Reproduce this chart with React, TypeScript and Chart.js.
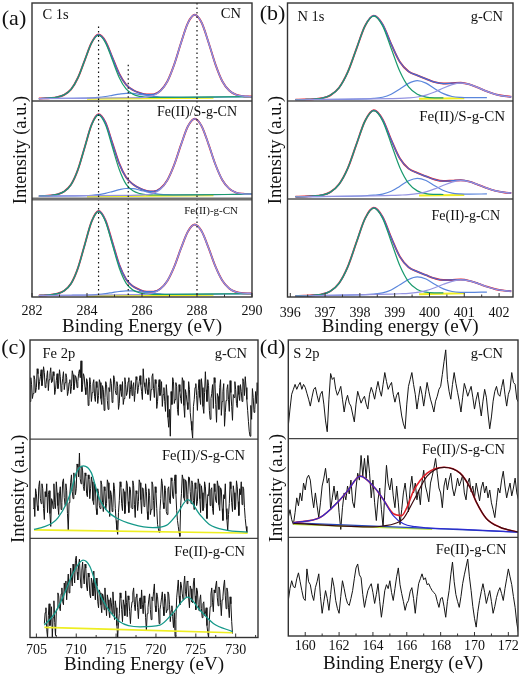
import React, { useEffect, useRef } from "react";
import { Chart, registerables } from "chart.js";

Chart.register(...registerables);

const SERIF = '"Liberation Serif", "Times New Roman", Times, serif';

// ---------------- (a) C 1s ----------------
const A_ENV_X = [282.25, 282.42, 282.67, 282.92, 283.17, 283.42, 283.67, 283.92, 284.17, 284.42, 284.67, 284.92, 285.17, 285.42, 285.67, 285.92, 286.17, 286.42, 286.67, 286.92, 287.17, 287.42, 287.67, 287.92, 288.17, 288.42, 288.67, 288.92, 289.17, 289.42, 289.67, 289.92, 290.0];
const A1_ENV = [2.5, 2.7, 3.1, 4.0, 6.3, 11.8, 23.7, 41.8, 59.7, 67.8, 61.0, 44.6, 27.9, 16.8, 11.2, 8.2, 6.6, 6.8, 10.5, 19.9, 37.1, 59.4, 79.7, 88.0, 79.8, 59.7, 37.4, 20.2, 10.7, 6.4, 4.9, 4.6, 4.5];
const A2_ENV = [2.9, 3.1, 3.6, 4.7, 7.6, 14.7, 30.0, 53.1, 76.2, 86.5, 78.1, 57.3, 36.3, 22.2, 15.0, 10.8, 8.3, 7.7, 10.7, 19.2, 34.8, 55.5, 74.2, 81.9, 74.3, 55.8, 35.2, 19.4, 10.6, 6.6, 5.3, 5.0, 4.9];
const A3_ENV = [1.5, 1.7, 2.2, 3.4, 6.4, 13.7, 29.5, 53.6, 77.2, 87.7, 78.4, 56.1, 33.2, 18.2, 10.9, 7.3, 5.4, 5.4, 8.5, 16.4, 30.8, 49.8, 66.9, 74.0, 67.0, 50.1, 31.2, 16.8, 8.7, 5.1, 3.8, 3.6, 3.5];

const A_GREEN_X = [282.25, 282.42, 282.67, 282.92, 283.17, 283.42, 283.67, 283.92, 284.17, 284.42, 284.67, 284.92, 285.17, 285.42, 285.67, 285.92, 286.17, 286.42, 286.92, 290.0];
const A1_GREEN = [2.5, 2.7, 3.1, 4.0, 6.3, 11.8, 23.7, 41.7, 59.5, 67.1, 59.6, 42.0, 24.1, 12.3, 6.9, 4.7, 4.0, 3.7, 3.7, 4.5];
const A2_GREEN = [2.9, 3.1, 3.6, 4.7, 7.6, 14.7, 30.0, 53.0, 75.8, 85.5, 75.9, 53.3, 30.4, 15.2, 8.3, 5.5, 4.5, 4.1, 4.1, 4.9];
const A3_GREEN = [1.5, 1.7, 2.2, 3.4, 6.4, 13.7, 29.5, 53.5, 77.0, 87.1, 77.1, 53.8, 29.9, 14.2, 7.1, 4.2, 3.1, 2.7, 2.7, 3.5];

const A_SMALL_X = [282.25, 283.42, 283.92, 284.17, 284.42, 284.67, 284.92, 285.17, 285.42, 285.67, 285.92, 286.17, 286.42, 286.67, 286.92, 287.42, 290.0];
const A1_SMALL = [2.5, 2.8, 3.0, 3.2, 3.7, 4.6, 5.8, 7.0, 7.8, 7.7, 6.8, 5.7, 4.7, 4.1, 3.9, 3.8, 4.5];
const A2_SMALL = [2.9, 3.2, 3.4, 3.8, 4.5, 5.8, 7.6, 9.5, 10.7, 10.5, 9.1, 7.2, 5.7, 4.8, 4.4, 4.2, 4.9];
const A3_SMALL = [1.5, 1.8, 2.0, 2.2, 2.6, 3.4, 4.5, 5.6, 6.3, 6.2, 5.4, 4.4, 3.6, 3.1, 2.8, 2.8, 3.5];

const A_LAV_X = [282.25, 285.42, 285.92, 286.17, 286.42, 286.67, 286.92, 287.17, 287.42, 287.67, 287.92, 288.17, 288.42, 288.67, 288.92, 289.17, 289.42, 289.67, 289.92, 290.0];
const A1_LAV = [2.5, 3.3, 3.5, 4.0, 5.6, 10.0, 19.7, 37.0, 59.4, 79.7, 88.0, 79.8, 59.7, 37.4, 20.2, 10.7, 6.4, 4.9, 4.6, 4.5];
const A2_LAV = [2.9, 3.7, 3.9, 4.4, 5.8, 9.9, 18.9, 34.8, 55.5, 74.2, 81.9, 74.3, 55.8, 35.2, 19.4, 10.6, 6.6, 5.3, 5.0, 4.9];
const A3_LAV = [1.5, 2.3, 2.5, 2.9, 4.3, 8.0, 16.3, 30.8, 49.8, 66.9, 74.0, 67.0, 50.1, 31.2, 16.8, 8.7, 5.1, 3.8, 3.6, 3.5];

const A_YEL_X = [284.0, 288.6];
const A1_YEL = [2.2, 3.4];
const A2_YEL = [2.6, 3.8];
const A3_YEL = [1.0, 2.2];

const A_DOT_X = [284.42, 285.5, 288.0];
const A1_DOT_TOP = [76, 37, 100];
const A2_DOT_TOP = [100, 100, 100];
const A3_DOT_TOP = [100, 100, 100];

// ---------------- (b) N 1s ----------------
const B_ENV_X = [396.15, 396.4, 396.65, 396.9, 397.15, 397.4, 397.65, 397.9, 398.15, 398.4, 398.65, 398.9, 399.15, 399.4, 399.65, 399.9, 400.15, 400.4, 400.65, 400.9, 401.15, 401.4, 401.65, 401.9, 402.15, 402.35];
const B1_ENV = [1.3, 1.5, 1.8, 2.8, 5.8, 13.5, 29.4, 53.2, 76.8, 87.1, 78.4, 58.1, 39.8, 30.2, 26.2, 22.6, 19.2, 17.8, 18.2, 18.6, 17.0, 13.6, 9.8, 6.8, 5.05, 4.3];
const B2_ENV = [2.3, 2.5, 3.0, 3.9, 7.0, 15.0, 31.2, 55.7, 79.8, 90.5, 81.4, 60.4, 41.3, 31.0, 26.6, 23.1, 19.9, 18.3, 18.7, 19.2, 17.7, 14.5, 11.1, 8.3, 6.7, 6.1];
const B3_ENV = [1.0, 1.3, 1.75, 2.7, 5.9, 14.0, 30.7, 55.7, 80.2, 91.0, 81.9, 60.6, 41.1, 30.4, 25.9, 22.3, 19.0, 17.3, 17.4, 17.8, 16.5, 13.7, 10.5, 7.9, 6.5, 5.9];

const B_GREEN_X = [396.15, 396.4, 396.65, 396.9, 397.15, 397.4, 397.65, 397.9, 398.15, 398.4, 398.65, 398.9, 399.15, 399.4, 399.65, 399.9, 400.15, 400.4];
const B1_GREEN = [1.3, 1.5, 1.8, 2.8, 5.8, 13.5, 29.4, 53.2, 76.7, 86.7, 76.9, 53.6, 30.0, 14.3, 6.8, 4.0, 3.2, 3.1];
const B2_GREEN = [2.3, 2.5, 3.0, 3.9, 7.0, 15.0, 31.2, 55.7, 79.7, 90.1, 80.0, 56.2, 32.0, 16.0, 8.3, 5.5, 4.75, 4.6];
const B3_GREEN = [1.0, 1.3, 1.75, 2.7, 5.9, 14.0, 30.7, 55.7, 80.1, 90.6, 80.5, 56.4, 31.8, 15.4, 7.7, 4.9, 4.25, 4.2];

const B_BLUE_X = [396.15, 398.15, 398.4, 398.65, 398.9, 399.15, 399.4, 399.65, 399.9, 400.15, 400.4, 400.65, 400.9, 401.15, 401.65];
const B1_BLUE = [1.3, 2.2, 2.6, 3.8, 6.9, 12.2, 18.0, 20.7, 18.2, 12.6, 7.5, 4.6, 3.6, 3.4, 3.5];
const B2_BLUE = [2.3, 3.3, 3.9, 5.0, 7.9, 13.1, 18.6, 21.1, 18.9, 13.6, 8.7, 6.0, 5.2, 5.0, 5.2];
const B3_BLUE = [1.0, 2.4, 3.0, 4.2, 7.2, 12.4, 17.9, 20.5, 18.3, 13.1, 8.3, 5.6, 4.8, 4.7, 5.0];

const B_LAV_X = [396.15, 398.9, 399.15, 399.4, 399.65, 399.9, 400.15, 400.4, 400.65, 400.9, 401.15, 401.4, 401.65, 401.9, 402.15, 402.35];
const B1_LAV = [1.3, 2.4, 2.6, 3.1, 4.05, 6.0, 9.2, 13.2, 16.7, 18.2, 16.9, 13.6, 9.8, 6.8, 5.05, 4.3];
const B2_LAV = [2.3, 3.7, 4.0, 4.4, 5.4, 7.3, 10.3, 14.0, 17.3, 18.8, 17.6, 14.5, 11.1, 8.3, 6.7, 6.1];
const B3_LAV = [1.0, 3.0, 3.3, 3.7, 4.7, 6.5, 9.4, 13.0, 16.0, 17.4, 16.4, 13.7, 10.5, 7.9, 6.5, 5.9];

const B_YEL_X = [399.7, 401.0];
const B1_YEL = [2.2, 2.7];
const B2_YEL = [3.6, 4.2];
const B3_YEL = [2.9, 3.7];

// ---------------- (c) Fe 2p ----------------
const C1_START = 704.2;
const C2_START = 704.6;
const C3_START = 706.0;
const C_STEP = 0.1;
const C1_NOISE = [38, 62, 55, 41, 46, 64, 60, 47, 52, 71, 66, 50, 58, 63, 70, 54, 61, 73, 67, 52, 55, 62, 69, 49, 60, 66, 72, 57, 58, 68, 64, 45, 50, 59, 66, 51, 56, 70, 63, 48, 54, 61, 68, 50, 57, 66, 62, 44, 48, 57, 60, 46, 53, 69, 65, 50, 56, 64, 62, 52, 58, 66, 70, 62, 79, 48, 55, 66, 63, 52, 45, 61, 58, 34, 40, 62, 55, 38, 47, 56, 60, 43, 38, 58, 52, 36, 44, 60, 57, 41, 35, 54, 50, 29, 42, 58, 55, 39, 30, 52, 48, 61, 56, 37, 40, 64, 60, 49, 45, 58, 53, 30, 36, 55, 49, 43, 58, 35, 41, 62, 55, 44, 47, 58, 62, 41, 50, 59, 44, 53, 57, 38, 49, 63, 60, 46, 52, 58, 64, 55, 48, 40, 71, 57, 53, 46, 61, 50, 45, 62, 58, 39, 50, 63, 66, 51, 42, 60, 56, 31, 38, 52, 60, 44, 47, 58, 33, 45, 52, 38, 28, 55, 44, 22, 12, 30, 3, 48, 35, 62, 58, 36, 40, 57, 53, 30, 24, 55, 48, 41, 36, 62, 59, 34, 22, 50, 45, 37, 30, 58, 50, 27, 18, 9, 1, 33, 40, 52, 56, 44, 29, 49, 60, 42, 35, 61, 52, 33, 26, 47, 68, 50, 38, 60, 54, 29, 20, 41, 46, 55, 31, 62, 57, 35, 17, 46, 43, 30, 52, 60, 24, 38, 48, 56, 13, 27, 39, 50, 55, 40, 28, 59, 47, 33, 19, 45, 42, 58, 50, 36, 32, 54, 45, 39, 55, 48, 38, 61, 58, 44, 63, 52, 40, 29, 18, 8, 3, 34, 20, 51, 42, 27, 30, 48, 36, 57, 44];
const C2_NOISE = [30, 41, 22, 50, 45, 33, 28, 52, 58, 40, 35, 55, 50, 30, 19, 47, 42, 55, 26, 44, 48, 25, 12, 40, 38, 30, 55, 36, 30, 57, 46, 33, 24, 45, 52, 29, 36, 57, 60, 41, 33, 55, 48, 25, 8, 36, 45, 56, 64, 47, 40, 66, 58, 44, 50, 75, 72, 62, 86, 60, 55, 73, 68, 52, 48, 66, 63, 45, 42, 64, 60, 40, 50, 62, 57, 38, 34, 55, 52, 30, 24, 50, 45, 33, 30, 58, 54, 36, 27, 52, 48, 29, 35, 59, 56, 40, 22, 48, 44, 27, 31, 56, 50, 30, 18, 9, 4, 26, 38, 57, 52, 35, 28, 50, 47, 25, 34, 58, 55, 37, 26, 52, 49, 31, 30, 58, 53, 34, 21, 48, 45, 28, 37, 59, 56, 39, 25, 51, 50, 32, 33, 55, 47, 27, 19, 50, 43, 24, 29, 57, 54, 38, 22, 52, 46, 30, 14, 10, 6, 28, 40, 60, 55, 36, 30, 53, 48, 27, 24, 50, 52, 38, 35, 61, 58, 42, 40, 57, 64, 45, 28, 18, 12, 6, 2, 33, 45, 64, 60, 41, 38, 59, 57, 35, 44, 62, 61, 47, 35, 58, 54, 38, 29, 56, 50, 33, 37, 60, 55, 40, 26, 53, 46, 28, 31, 57, 52, 35, 20, 44, 43, 56, 33, 49, 51, 30, 24, 55, 47, 38, 36, 58, 53, 34, 28, 51, 49, 30, 18, 44, 40, 55, 30, 19, 8, 24, 35, 57, 50, 36, 27, 53, 46, 29, 32, 58, 52, 37, 23, 50, 44, 57, 34, 52, 50, 31, 20, 12, 6];
const C3_NOISE = [14, 25, 30, 8, 0, 22, 34, 12, 18, 31, 0, 20, 37, 15, 2, 26, 29, 45, 42, 31, 27, 44, 50, 36, 33, 55, 46, 57, 38, 52, 64, 45, 48, 70, 60, 52, 74, 66, 55, 78, 82, 66, 58, 73, 79, 61, 50, 68, 76, 62, 54, 74, 70, 52, 47, 65, 61, 44, 40, 60, 55, 42, 67, 49, 38, 60, 52, 36, 30, 48, 45, 33, 25, 44, 41, 28, 50, 35, 22, 43, 38, 27, 20, 40, 35, 24, 46, 32, 18, 37, 30, 12, 0, 15, 24, 45, 40, 28, 16, 38, 33, 22, 47, 35, 21, 42, 38, 26, 14, 29, 36, 45, 50, 33, 27, 41, 44, 30, 19, 36, 40, 29, 48, 33, 24, 42, 35, 20, 7, 24, 30, 38, 44, 28, 18, 41, 37, 46, 54, 32, 26, 45, 41, 30, 14, 28, 33, 40, 46, 31, 22, 44, 39, 25, 28, 46, 44, 33, 16, 27, 32, 21, 10, 25, 1, 18, 40, 49, 58, 42, 33, 56, 52, 44, 38, 53, 62, 46, 41, 57, 56, 40, 30, 52, 49, 36, 35, 55, 60, 42, 28, 50, 47, 33, 27, 38, 43, 29, 20, 34, 36, 22, 24, 30, 12, 5, 0, 18, 31, 44, 50, 35, 26, 48, 45, 52, 57, 40, 32, 51, 48, 35, 22, 38, 41, 52, 58, 42, 29, 50, 46, 30, 20, 41, 34, 16, 4];

const C2_GREEN_X = [704.7, 706.0, 707.0, 707.7, 708.8, 709.4, 710.0, 710.9, 711.9, 712.5, 712.9, 713.8, 715.0, 717.1, 719.6, 721.3, 722.6, 724.0, 725.5, 726.7, 728.8, 731.5];
const C2_GREEN = [9, 11.7, 15.5, 20.7, 35.7, 49, 66, 73, 66, 50, 40, 28.3, 20.7, 14, 10.7, 13, 24, 39, 24, 14, 8.3, 6.3];
const C3_GREEN_X = [706.0, 707.3, 708.55, 709.6, 710.85, 711.7, 712.7, 713.8, 715.45, 718.0, 720.5, 722.1, 724.0, 725.5, 727.2, 729.6];
const C3_GREEN = [12.5, 24.4, 44.8, 65, 78, 71.8, 48.1, 31.1, 15.9, 10.8, 12.5, 24.4, 40.7, 27.8, 14.2, 6];
const C2_YEL_X = [704.7, 731.5];
const C2_YEL = [8.5, 5.3];
const C3_YEL_X = [706.0, 729.6];
const C3_YEL = [10.2, 4.8];

// ---------------- (d) S 2p ----------------
const D_START = 159.0;
const D_STEP = 0.1;
const D1_NOISE = [13, 30, 45, 50, 55, 50, 54, 57, 50, 55, 52, 46, 40, 33, 42, 50, 52, 44, 37, 45, 48, 35, 18, 7, 40, 66, 60, 62, 50, 44, 48, 53, 40, 27, 38, 44, 36, 33, 25, 17, 35, 48, 42, 36, 40, 43, 35, 30, 45, 52, 47, 40, 50, 58, 49, 43, 55, 67, 58, 50, 54, 57, 45, 37, 44, 47, 35, 23, 15, 10, 35, 53, 60, 67, 55, 45, 30, 42, 53, 45, 33, 45, 57, 48, 40, 34, 27, 38, 43, 50, 53, 65, 78, 90, 60, 48, 40, 55, 67, 56, 47, 38, 27, 42, 56, 50, 43, 48, 53, 42, 30, 40, 47, 35, 23, 38, 50, 42, 25, 10, 22, 38, 48, 53, 45, 43, 52, 60, 45, 33, 45, 50, 67, 57, 55, 40, 37];
const D2_NOISE = [20, 28, 18, 13, 25, 40, 32, 45, 37, 55, 48, 60, 63, 58, 42, 30, 45, 32, 20, 35, 52, 60, 70, 55, 60, 28, 40, 52, 38, 47, 25, 8, 30, 45, 38, 52, 44, 58, 36, 30, 50, 65, 58, 83, 62, 80, 60, 83, 65, 40, 58, 35, 17, 38, 50, 28, 10, 45, 73, 55, 48, 60, 42, 30, 52, 35, 13, 28, 45, 55, 40, 26, 50, 62, 45, 55, 38, 48, 33, 56, 68, 52, 45, 36, 55, 62, 70, 80, 65, 50, 45, 30, 52, 60, 48, 58, 65, 50, 42, 50, 60, 52, 57, 63, 45, 38, 55, 60, 46, 52, 40, 55, 46, 37, 50, 56, 45, 52, 40, 48, 35, 28, 20, 35, 50, 45, 58, 67, 52, 40, 48, 55, 42, 50, 60, 45, 38];
const D3_NOISE = [36, 48, 56, 50, 49, 58, 64, 55, 46, 38, 36, 68, 55, 52, 42, 36, 49, 55, 63, 40, 23, 35, 46, 38, 26, 42, 59, 50, 36, 28, 23, 40, 56, 48, 39, 33, 31, 38, 46, 58, 69, 73, 62, 59, 42, 29, 38, 46, 50, 53, 44, 33, 42, 53, 35, 19, 32, 46, 52, 48, 56, 44, 36, 48, 60, 69, 52, 43, 35, 26, 33, 36, 45, 49, 38, 23, 40, 53, 58, 63, 57, 59, 52, 53, 49, 46, 44, 42, 35, 29, 38, 39, 30, 19, 35, 46, 62, 75, 55, 42, 35, 29, 40, 53, 62, 70, 78, 60, 46, 30, 18, 9, 25, 36, 45, 53, 44, 33, 40, 46, 35, 23, 30, 39, 45, 49, 43, 36, 48, 58, 68, 60, 52, 40, 29, 13, 3];

const D2_ENV_X = [159.3, 160.9, 161.9, 162.5, 163.25, 164.1, 164.6, 165.2, 165.7, 166.0, 166.4, 167.2, 168.2, 169.15, 169.75, 170.1, 170.7, 171.5, 172.6];
const D2_ENV = [14.7, 20.3, 35.3, 47, 62, 50.3, 38.7, 24, 22, 30, 47, 65, 71, 65, 50, 36, 19, 10.3, 5.3];
const D2_BLUE_X = [159.3, 160.9, 161.9, 162.5, 163.25, 164.1, 164.6, 165.2, 165.8, 166.5, 167.2, 169.0, 172.6];
const D2_BLUE = [14.7, 20.3, 35.3, 47, 62, 50.3, 38.7, 22, 13.7, 10.8, 9.6, 8.3, 5.3];
const D2_DARK_X = [159.3, 164.0, 164.6, 165.3, 165.8, 166.4, 167.2, 168.2, 169.15, 169.75, 170.1, 170.7, 171.5, 172.6];
const D2_DARK = [14.2, 10.5, 11.5, 14, 19, 37, 62, 71, 65, 50, 36, 19, 10.3, 5.3];
const D2_BASE_X = [159.3, 172.6];
const D2_BASE = [14.7, 5.3];
const D2_YG_X = [159.3, 167.5];
const D2_YG = [13.3, 8.2];

// ---------------- styles ----------------
const RED = "#e8202c";
const ENV = "#3f6fd8";
const GREEN = "#1a9a6e";
const LAV = "#9494e2";
const SMALL = "#5a86dc";
const YEL = "#eeee22";
const TEAL = "#16998a";
const D_BLUE = "#2c2cd0";
const D_RED = "#e0202a";
const D_DARK = "#3a0a10";
const D_NAVY = "#2848b8";
const D_YG = "#b8e040";

const pts = (xs: number[], ys: number[]) => xs.map((x, i) => ({ x, y: ys[i] }));
const even = (x0: number, step: number, ys: number[]) =>
  ys.map((y, i) => ({ x: Math.round((x0 + i * step) * 100) / 100, y }));

const smooth = (data: any[], color: string, axis: string, width = 1.2) => ({
  data,
  borderColor: color,
  borderWidth: width,
  yAxisID: axis,
  pointRadius: 0,
  fill: false,
  cubicInterpolationMode: "monotone",
});
const jag = (data: any[], axis: string) => ({
  data,
  borderColor: "#151515",
  borderWidth: 1,
  yAxisID: axis,
  pointRadius: 0,
  fill: false,
  tension: 0,
});
const vline = (x: number, top: number, axis: string) => ({
  data: [
    { x, y: top },
    { x, y: 0 },
  ],
  borderColor: "#111",
  borderWidth: 1.2,
  borderDash: [1.5, 3],
  yAxisID: axis,
  pointRadius: 0,
  fill: false,
  tension: 0,
});

function aSub(axis: string, green: number[], lav: number[], small: number[], env: number[], yel: number[], dot: number[]) {
  return [
    ...A_DOT_X.map((x, i) => vline(x, dot[i], axis)),
    smooth(pts(A_LAV_X, lav), LAV, axis),
    smooth(pts(A_GREEN_X, green), GREEN, axis),
    smooth(pts(A_SMALL_X, small), SMALL, axis),
    smooth(pts(A_ENV_X, env), ENV, axis),
    smooth(pts(A_ENV_X, env), RED, axis, 1.9),
    smooth(pts(A_YEL_X, yel), YEL, axis, 2),
  ];
}
function bSub(axis: string, green: number[], lav: number[], blue: number[], env: number[], yel: number[]) {
  return [
    smooth(pts(B_LAV_X, lav), LAV, axis),
    smooth(pts(B_GREEN_X, green), GREEN, axis),
    smooth(pts(B_BLUE_X, blue), SMALL, axis),
    smooth(pts(B_ENV_X, env), ENV, axis),
    smooth(pts(B_ENV_X, env), RED, axis, 1.9),
    smooth(pts(B_YEL_X, yel), YEL, axis, 2),
  ];
}

const PANELS: any[] = [
  {
    key: "a",
    left: 0, top: 0, w: 270, h: 339,
    padding: { left: 32, right: 18, top: 3, bottom: 1 },
    axisH: 41, tickPad: 6, min: 282, max: 290, step: 2,
    title: "Binding Energy (eV)", tag: "(a)", tagX: 14, tagY: 19,
    seps: [{ color: "#444", width: 1.4 }, { color: "#707070", width: 3 }],
    labels: [
      { left: "C 1s", lx: 10.5, ly: 12, right: "CN", rx: 11, ry: 11, size: 14.5 },
      { right: "Fe(II)/S-g-CN", rx: 15, ry: 11, size: 14 },
      { right: "Fe(II)-g-CN", rx: 14, ry: 12.5, size: 11 },
    ],
    build: () => [
      ...aSub("top", A1_GREEN, A1_LAV, A1_SMALL, A1_ENV, A1_YEL, A1_DOT_TOP),
      ...aSub("mid", A2_GREEN, A2_LAV, A2_SMALL, A2_ENV, A2_YEL, A2_DOT_TOP),
      ...aSub("bot", A3_GREEN, A3_LAV, A3_SMALL, A3_ENV, A3_YEL, A3_DOT_TOP),
    ],
  },
  {
    key: "b",
    left: 260, top: 0, w: 260, h: 339,
    padding: { left: 27.5, right: 7, top: 3, bottom: 1 },
    axisH: 41, tickPad: 8, min: 395.92, max: 402.4, step: 1,
    title: "Binding energy (eV)", tag: "(b)", tagX: 12.5, tagY: 14,
    seps: [{ color: "#555", width: 1.5 }, { color: "#555", width: 1.5 }],
    labels: [
      { left: "N 1s", lx: 10, ly: 14, right: "g-CN", rx: 10, ry: 14, size: 14.5 },
      { right: "Fe(II)/S-g-CN", rx: 8, ry: 16.5, size: 15 },
      { right: "Fe(II)-g-CN", rx: 13, ry: 17.5, size: 14 },
    ],
    build: () => [
      ...bSub("top", B1_GREEN, B1_LAV, B1_BLUE, B1_ENV, B1_YEL),
      ...bSub("mid", B2_GREEN, B2_LAV, B2_BLUE, B2_ENV, B2_YEL),
      ...bSub("bot", B3_GREEN, B3_LAV, B3_BLUE, B3_ENV, B3_YEL),
    ],
  },
  {
    key: "c",
    left: 0, top: 339, w: 260, h: 337,
    padding: { left: 30, right: 2, top: 1, bottom: 0 },
    axisH: 38.5, tickPad: 4, min: 704.2, max: 732.8, step: 5,
    title: "Binding Energy (eV)", tag: "(c)", tagX: 13.5, tagY: 9,
    seps: [{ color: "#444", width: 1.3 }, { color: "#444", width: 1.3 }],
    labels: [
      { left: "Fe 2p", lx: 12.5, ly: 14, right: "g-CN", rx: 11, ry: 14, size: 14.5 },
      { right: "Fe(II)/S-g-CN", rx: 13, ry: 17, size: 14.5 },
      { right: "Fe(II)-g-CN", rx: 13, ry: 14, size: 14.5 },
    ],
    build: () => [
      jag(even(C1_START, C_STEP, C1_NOISE), "top"),
      smooth(pts(C2_GREEN_X, C2_GREEN), TEAL, "mid", 1.3),
      smooth(pts(C2_YEL_X, C2_YEL), YEL, "mid", 1.6),
      jag(even(C2_START, C_STEP, C2_NOISE), "mid"),
      smooth(pts(C3_GREEN_X, C3_GREEN), TEAL, "bot", 1.3),
      smooth(pts(C3_YEL_X, C3_YEL), YEL, "bot", 1.6),
      jag(even(C3_START, C_STEP, C3_NOISE), "bot"),
    ],
  },
  {
    key: "d",
    left: 260, top: 339, w: 260, h: 337,
    padding: { left: 28.3, right: 2, top: 1, bottom: 1 },
    axisH: 39, tickPad: 2, min: 159.0, max: 172.57, step: 2,
    title: "Binding Energy (eV)", tag: "(d)", tagX: 12.5, tagY: 9,
    seps: [{ color: "#444", width: 1.3 }, { color: "#444", width: 1.3 }],
    labels: [
      { left: "S 2p", lx: 5, ly: 14, right: "g-CN", rx: 15, ry: 14, size: 14.5 },
      { right: "Fe(II)/S-g-CN", rx: 13, ry: 12, size: 14.5 },
      { right: "Fe(II)-g-CN", rx: 11.5, ry: 12.5, size: 14.5 },
    ],
    build: () => [
      jag(even(D_START, D_STEP, D1_NOISE), "top"),
      smooth(pts(D2_DARK_X, D2_DARK), D_DARK, "mid", 1.2),
      smooth(pts(D2_BLUE_X, D2_BLUE), D_BLUE, "mid", 1.2),
      smooth(pts(D2_ENV_X, D2_ENV), D_RED, "mid", 1.6),
      smooth(pts(D2_BASE_X, D2_BASE), D_NAVY, "mid", 1.2),
      smooth(pts(D2_YG_X, D2_YG), D_YG, "mid", 1.6),
      jag(even(D_START, D_STEP, D2_NOISE), "mid"),
      jag(even(D_START, D_STEP, D3_NOISE), "bot"),
    ],
  },
];

function decor(spec: any) {
  return {
    id: "decor-" + spec.key,
    afterDatasetsDraw(chart: any) {
      const { ctx, chartArea: ca } = chart;
      const subs = ["top", "mid", "bot"].map((id) => chart.scales[id]);
      ctx.save();
      spec.seps.forEach((s: any, i: number) => {
        const y = subs[i].bottom;
        ctx.strokeStyle = s.color;
        ctx.lineWidth = s.width;
        ctx.beginPath();
        ctx.moveTo(ca.left, y);
        ctx.lineTo(ca.right, y);
        ctx.stroke();
      });
      ctx.strokeStyle = "#333";
      ctx.lineWidth = 1.4;
      ctx.strokeRect(ca.left, ca.top, ca.right - ca.left, ca.bottom - ca.top);

      const xs = chart.scales.x;
      const majors = xs.ticks.map((t: any) => t.value);
      const minors: number[] = majors.map((v: number) => v - spec.step / 2);
      if (majors.length) minors.push(majors[majors.length - 1] + spec.step / 2);
      ctx.strokeStyle = "#333";
      ctx.lineWidth = 1;
      ctx.beginPath();
      majors.forEach((v: number) => {
        const px = xs.getPixelForValue(v);
        ctx.moveTo(px, ca.bottom);
        ctx.lineTo(px, ca.bottom - 4);
      });
      minors
        .filter((v) => v > xs.min && v < xs.max)
        .forEach((v) => {
          const px = xs.getPixelForValue(v);
          ctx.moveTo(px, ca.bottom);
          ctx.lineTo(px, ca.bottom - 2.5);
        });
      ctx.stroke();

      ctx.fillStyle = "#111";
      ctx.textBaseline = "middle";
      spec.labels.forEach((lab: any, i: number) => {
        const sc = subs[i];
        ctx.font = `${lab.size}px ${SERIF}`;
        if (lab.left) {
          ctx.textAlign = "left";
          ctx.fillText(lab.left, ca.left + lab.lx, sc.top + lab.ly);
        }
        ctx.textAlign = "right";
        ctx.fillText(lab.right, ca.right - lab.rx, sc.top + lab.ry);
      });
      ctx.restore();
    },
    afterDraw(chart: any) {
      const { ctx, chartArea: ca } = chart;
      ctx.save();
      ctx.fillStyle = "#111";
      ctx.textAlign = "center";
      ctx.textBaseline = "middle";
      ctx.font = `22px ${SERIF}`;
      ctx.fillText(spec.tag, spec.tagX, spec.tagY);
      ctx.translate(ca.left - 11, (ca.top + ca.bottom) / 2);
      ctx.rotate(-Math.PI / 2);
      ctx.font = `18.5px ${SERIF}`;
      ctx.fillText("Intensity (a.u.)", 0, 0);
      ctx.restore();
    },
  };
}

const yAxis = () => ({
  type: "linear",
  min: 0,
  max: 100,
  display: false,
  position: "left",
  stack: "panel",
  stackWeight: 1,
});

function Panel({ spec }: { spec: any }) {
  const ref = useRef<HTMLCanvasElement>(null);
  useEffect(() => {
    const chart = new Chart(ref.current as HTMLCanvasElement, {
      type: "line",
      data: { datasets: spec.build() },
      options: {
        responsive: false,
        animation: false,
        events: [],
        layout: { padding: spec.padding },
        plugins: { legend: { display: false }, tooltip: { enabled: false } },
        scales: {
          x: {
            type: "linear",
            min: spec.min,
            max: spec.max,
            position: "bottom",
            afterFit: (s: any) => {
              s.height = spec.axisH;
              s.paddingLeft = 0;
              s.paddingRight = 0;
            },
            grid: { display: false, drawTicks: false },
            border: { display: false },
            ticks: {
              stepSize: spec.step,
              includeBounds: false,
              padding: spec.tickPad,
              maxRotation: 0,
              autoSkip: false,
              color: "#111",
              font: { family: SERIF, size: 14 },
            },
            title: {
              display: true,
              text: spec.title,
              color: "#111",
              padding: 0,
              font: { family: SERIF, size: 19 },
            },
          },
          bot: yAxis(),
          mid: yAxis(),
          top: yAxis(),
        },
      } as any,
      plugins: [decor(spec)],
    } as any);
    return () => chart.destroy();
  }, [spec]);
  return (
    <canvas
      ref={ref}
      width={spec.w}
      height={spec.h}
      style={{ position: "absolute", left: spec.left, top: spec.top, width: spec.w, height: spec.h }}
    />
  );
}

export default function App() {
  return (
    <div
      style={{
        position: "absolute",
        left: 0,
        top: 0,
        width: 520,
        height: 676,
        background: "#fff",
        overflow: "hidden",
      }}
    >
      {PANELS.map((p) => (
        <Panel key={p.key} spec={p} />
      ))}
    </div>
  );
}
